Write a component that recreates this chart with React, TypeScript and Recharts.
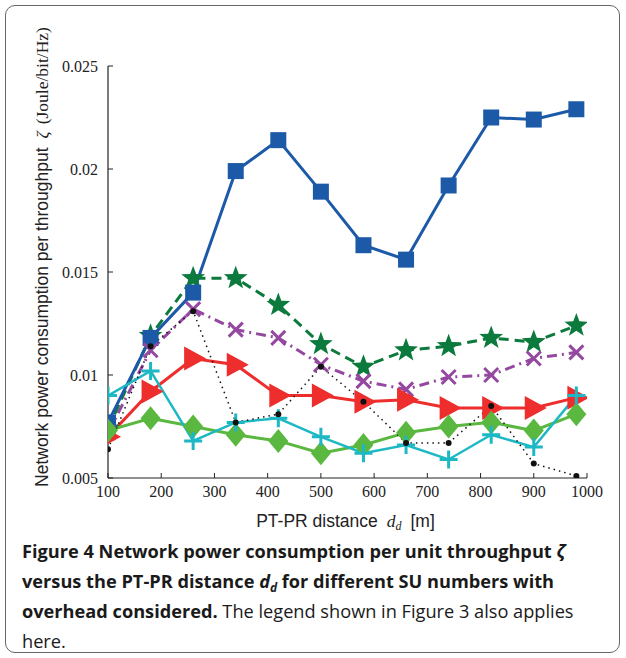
import React from 'react';
import { LineChart, Line, XAxis, YAxis, Label } from 'recharts';

const distances = [100, 180, 260, 340, 420, 500, 580, 660, 740, 820, 900, 980];
const seriesSquare = [0.0077, 0.0118, 0.0140, 0.0199, 0.0214, 0.0189, 0.0163, 0.0156, 0.0192, 0.0225, 0.0224, 0.0229];
const seriesStar = [0.0074, 0.0119, 0.0147, 0.0147, 0.0134, 0.0115, 0.0104, 0.0112, 0.0114, 0.0118, 0.0116, 0.0124];
const seriesCross = [0.0072, 0.0112, 0.0132, 0.0122, 0.0118, 0.0105, 0.0097, 0.0093, 0.0099, 0.0100, 0.0108, 0.0111];
const seriesTriangle = [0.0070, 0.0092, 0.0108, 0.0105, 0.0090, 0.0090, 0.0087, 0.0088, 0.0084, 0.0084, 0.0084, 0.0089];
const seriesPlus = [0.0090, 0.0102, 0.0068, 0.0077, 0.0079, 0.0070, 0.0062, 0.0066, 0.0059, 0.0071, 0.0065, 0.0090];
const seriesDiamond = [0.0073, 0.0079, 0.0075, 0.0071, 0.0068, 0.0062, 0.0066, 0.0072, 0.0075, 0.0077, 0.0073, 0.0081];
const seriesDot = [0.0064, 0.0114, 0.0131, 0.0077, 0.0081, 0.0104, 0.0087, 0.0067, 0.0067, 0.0085, 0.0057, 0.0051];

const xTicks = [100, 200, 300, 400, 500, 600, 700, 800, 900, 1000];
const yTicks = [0.005, 0.01, 0.015, 0.02, 0.025];

const data = distances.map((d, i) => ({
  d,
  square: seriesSquare[i],
  star: seriesStar[i],
  cross: seriesCross[i],
  triangle: seriesTriangle[i],
  plus: seriesPlus[i],
  diamond: seriesDiamond[i],
  dot: seriesDot[i],
}));

const C_BLUE = '#1c5aa8';
const C_STAR = '#0b7a3c';
const C_PURPLE = '#9448a0';
const C_RED = '#ee2d2d';
const C_DIAMOND = '#5ab840';
const C_CYAN = '#1db8c4';
const C_BLACK = '#111';

function starPath(cx: number, cy: number, R: number, r: number) {
  let d = '';
  for (let i = 0; i < 10; i++) {
    const a = -Math.PI / 2 + (i * Math.PI) / 5;
    const rad = i % 2 === 0 ? R : r;
    d += (i === 0 ? 'M' : 'L') + (cx + rad * Math.cos(a)).toFixed(2) + ',' + (cy + rad * Math.sin(a)).toFixed(2);
  }
  return d + 'Z';
}

const SquareDot = (p: any) => (
  <rect key={'sq' + p.index} x={p.cx - 8} y={p.cy - 8} width={16} height={16} fill={C_BLUE} />
);
const StarDot = (p: any) => <path key={'st' + p.index} d={starPath(p.cx, p.cy, 12.5, 5.2)} fill={C_STAR} />;
const CrossDot = (p: any) => (
  <path
    key={'cr' + p.index}
    d={`M${p.cx - 7},${p.cy - 7}L${p.cx + 7},${p.cy + 7}M${p.cx - 7},${p.cy + 7}L${p.cx + 7},${p.cy - 7}`}
    stroke={C_PURPLE}
    strokeWidth={3}
    fill="none"
  />
);
const TriangleDot = (p: any) => (
  <path
    key={'tr' + p.index}
    d={`M${p.cx - 9},${p.cy - 12}L${p.cx + 13},${p.cy}L${p.cx - 9},${p.cy + 12}Z`}
    fill={C_RED}
  />
);
const PlusDot = (p: any) => (
  <path
    key={'pl' + p.index}
    d={`M${p.cx - 9},${p.cy}L${p.cx + 9},${p.cy}M${p.cx},${p.cy - 9}L${p.cx},${p.cy + 9}`}
    stroke={C_CYAN}
    strokeWidth={3}
    fill="none"
  />
);
const DiamondDot = (p: any) => (
  <path
    key={'di' + p.index}
    d={`M${p.cx},${p.cy - 12}L${p.cx + 10},${p.cy}L${p.cx},${p.cy + 12}L${p.cx - 10},${p.cy}Z`}
    fill={C_DIAMOND}
  />
);
const BlackDot = (p: any) => <circle key={'bd' + p.index} cx={p.cx} cy={p.cy} r={3} fill={C_BLACK} />;

const tickStyle = { fontFamily: 'Liberation Serif', fontSize: 16, fill: '#222' };

const XLabel = (props: any) => {
  const vb = props.viewBox || { x: 108, width: 479 };
  const cx = vb.x + vb.width / 2 - 2;
  return (
    <text x={cx} y={527} textAnchor="middle" fontSize={17.5} fill="#222">
      <tspan fontFamily="Liberation Sans">PT-PR distance</tspan>
      <tspan fontFamily="Liberation Serif" fontStyle="italic" dx={9}>d</tspan>
      <tspan fontFamily="Liberation Serif" fontStyle="italic" fontSize={12} dy={3}>d</tspan>
      <tspan fontFamily="Liberation Sans" dx={9} dy={-3}>[m]</tspan>
    </text>
  );
};

const YLabel = () => (
  <text
    x={42}
    y={257}
    transform="rotate(-90, 42, 257)"
    textAnchor="middle"
    dominantBaseline="central"
    fontSize={17.5}
    fill="#222"
  >
    <tspan fontFamily="Liberation Sans">Network power consumption per throughput</tspan>
    <tspan fontFamily="Liberation Serif" fontStyle="italic" dx={9}>ζ</tspan>
    <tspan fontFamily="Liberation Serif" dx={7}>(Joule/bit/Hz)</tspan>
  </text>
);

export default function App() {
  return (
    <div style={{ position: 'absolute', left: 0, top: 0, width: 626, height: 658, background: '#fff' }}>
      <div
        style={{
          position: 'absolute',
          left: 5,
          top: 5,
          width: 613,
          height: 646,
          border: '1.5px solid #666',
          borderRadius: 10,
        }}
      />
      <div style={{ position: 'absolute', left: 0, top: 0 }}>
        <LineChart width={626} height={540} data={data} margin={{ top: 66, right: 39, left: 0, bottom: 22 }}>
          <XAxis
            xAxisId="b"
            dataKey="d"
            type="number"
            domain={[100, 1000]}
            ticks={xTicks}
            allowDataOverflow
            height={40}
            tickSize={-5}
            tickMargin={13}
            tick={tickStyle}
            axisLine={{ stroke: '#222', strokeWidth: 1.2 }}
            tickLine={{ stroke: '#222' }}
          >
            <Label content={XLabel} />
          </XAxis>
          <XAxis
            xAxisId="t"
            orientation="top"
            dataKey="d"
            type="number"
            domain={[100, 1000]}
            ticks={xTicks}
            allowDataOverflow
            height={0}
            tickSize={-5}
            tick={false}
            axisLine={{ stroke: '#222', strokeWidth: 1.2 }}
            tickLine={{ stroke: '#222' }}
          />
          <YAxis
            yAxisId="l"
            type="number"
            domain={[0.005, 0.025]}
            ticks={yTicks}
            allowDataOverflow
            width={108}
            tickSize={-5}
            tickMargin={15}
            tick={tickStyle}
            axisLine={{ stroke: '#222', strokeWidth: 1.2 }}
            tickLine={{ stroke: '#222' }}
          >
            <Label content={YLabel} />
          </YAxis>
          <YAxis
            yAxisId="r"
            orientation="right"
            type="number"
            domain={[0.005, 0.025]}
            ticks={yTicks}
            allowDataOverflow
            width={0}
            tickSize={-5}
            tick={false}
            axisLine={{ stroke: '#222', strokeWidth: 1.2 }}
            tickLine={{ stroke: '#222' }}
          />
          <Line xAxisId="b" yAxisId="l" type="linear" dataKey="star" stroke={C_STAR} strokeWidth={3} strokeDasharray="10 6" dot={StarDot} activeDot={false} isAnimationActive={false} />
          <Line xAxisId="b" yAxisId="l" type="linear" dataKey="square" stroke={C_BLUE} strokeWidth={3} dot={SquareDot} activeDot={false} isAnimationActive={false} />
          <Line xAxisId="b" yAxisId="l" type="linear" dataKey="cross" stroke={C_PURPLE} strokeWidth={3} strokeDasharray="10 5 2 5" dot={CrossDot} activeDot={false} isAnimationActive={false} />
          <Line xAxisId="b" yAxisId="l" type="linear" dataKey="triangle" stroke={C_RED} strokeWidth={3} dot={TriangleDot} activeDot={false} isAnimationActive={false} />
          <Line xAxisId="b" yAxisId="l" type="linear" dataKey="diamond" stroke={C_DIAMOND} strokeWidth={3} dot={DiamondDot} activeDot={false} isAnimationActive={false} />
          <Line xAxisId="b" yAxisId="l" type="linear" dataKey="plus" stroke={C_CYAN} strokeWidth={2.5} dot={PlusDot} activeDot={false} isAnimationActive={false} />
          <Line xAxisId="b" yAxisId="l" type="linear" dataKey="dot" stroke={C_BLACK} strokeWidth={1.5} strokeDasharray="1.5 4" dot={BlackDot} activeDot={false} isAnimationActive={false} />
        </LineChart>
      </div>
      <div
        style={{
          position: 'absolute',
          left: 22,
          top: 536,
          fontFamily: '"Open Sans", sans-serif',
          fontSize: 18.2,
          lineHeight: '30px',
          color: '#1a1a1a',
          whiteSpace: 'nowrap',
        }}
      >
        <b>Figure 4 Network power consumption per unit throughput <i>ζ</i></b>
        <br />
        <b>
          versus the PT-PR distance <i>d</i>
          <i style={{ fontSize: 12, position: 'relative', top: 4, lineHeight: 0 }}>d</i> for different SU numbers with
        </b>
        <br />
        <b>overhead considered.</b> The legend shown in Figure 3 also applies
        <br />
        here.
      </div>
    </div>
  );
}
